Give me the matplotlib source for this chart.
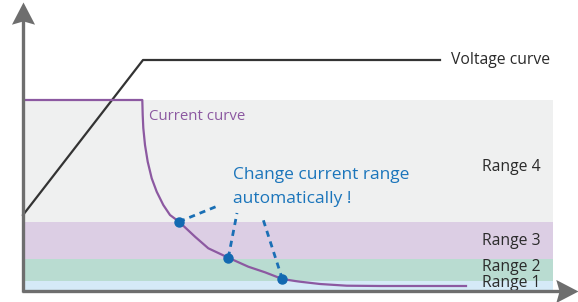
import matplotlib.pyplot as plt
from matplotlib.path import Path

# time / level units (arbitrary), origin at the corner of the two axes
voltage_t = [0, 120, 417]
voltage_v = [76, 231, 231]

current_t = [3, 119.3, 119.7, 120.3, 122, 124.7, 128.7, 133.7, 140.3, 147, 156,
             172, 185.3, 205.3, 225.3, 242, 259.3, 272, 277, 297, 323.7, 357, 443]
current_i = [191, 191, 176, 163, 146, 129.3, 112.7, 99.3, 86, 76, 69.3,
             54.3, 42.7, 33.3, 24.3, 18.7, 12, 10, 9.3, 7, 5.3, 5, 5]

# range bands: (bottom, top)
range_names = ['Range 1', 'Range 2', 'Range 3', 'Range 4']
range_bottom = [0, 10, 32, 69]
range_top = [10, 32, 69, 191]
range_colors = ['#d5eaf7', '#b9dcd1', '#dccee4', '#eff0f0']
range_label_y = [8, 24, 50, 124]
band_end = 530

# points where the range switches
switch_t = [156, 205.3, 259.3]
switch_i = [69.3, 33.3, 12]
leader_t = [197, 214, 239]
leader_i = [86, 78, 75]

note_lines = ['Change current range', 'automatically !']
note_y = [116, 92]

plt.rcParams['font.family'] = ['Open Sans', 'DejaVu Sans']

fig = plt.figure(figsize=(5.78, 3.02), dpi=100)
ax = fig.add_axes([0, 0, 1, 1])
ax.set_xlim(-23, 555)
ax.set_ylim(-11, 291)
ax.axis('off')

for b, t, c in zip(range_bottom, range_top, range_colors):
    ax.fill_between([0, band_end], b, t, color=c, lw=0, zorder=1)

for name, y in zip(range_names, range_label_y):
    ax.text(459, y, name, fontsize=11.3, color='#2b2b2b', va='center', ha='left', zorder=5)

ax.plot(voltage_t, voltage_v, color='#333333', lw=1.6, zorder=3)
ax.text(428, 231, 'Voltage curve', fontsize=11.3, color='#2b2b2b', va='center', ha='left')

ax.plot(current_t, current_i, color='#8c59a1', lw=1.6, zorder=3, solid_joinstyle='round')
ax.text(126, 174, 'Current curve', fontsize=10.8, color='#8c59a1', va='center', ha='left')

for x0, y0, x1, y1 in zip(switch_t, switch_i, leader_t, leader_i):
    ax.plot([x0, x1], [y0, y1], color='#1a6fb5', lw=2, dashes=(2.2, 1.8), zorder=3)
ax.plot(switch_t, switch_i, 'o', color='#1269b1', ms=6.5, zorder=4)

for line, y in zip(note_lines, note_y):
    ax.text(210, y, line, fontsize=12.5, color='#1b75bb', va='center', ha='left')

# axes with notched arrow heads
axis_color = '#6e6e6e'
head_up = Path([(0, 0), (-0.52, -1), (0, -0.85), (0.52, -1), (0, 0)])
head_right = Path([(0, 0), (-1, 0.52), (-0.85, 0), (-1, -0.52), (0, 0)])
ax.plot([0, 0], [-1, 280], color=axis_color, lw=2.4, solid_capstyle='butt', zorder=6)
ax.plot([-1.2, 545], [0, 0], color=axis_color, lw=2.4, solid_capstyle='butt', zorder=6)
ax.plot(0, 289, marker=head_up, ms=32, color=axis_color, mew=0, zorder=7)
ax.plot(555, 0, marker=head_right, ms=32, color=axis_color, mew=0, zorder=7)

fig.savefig('out.png', dpi=100)
